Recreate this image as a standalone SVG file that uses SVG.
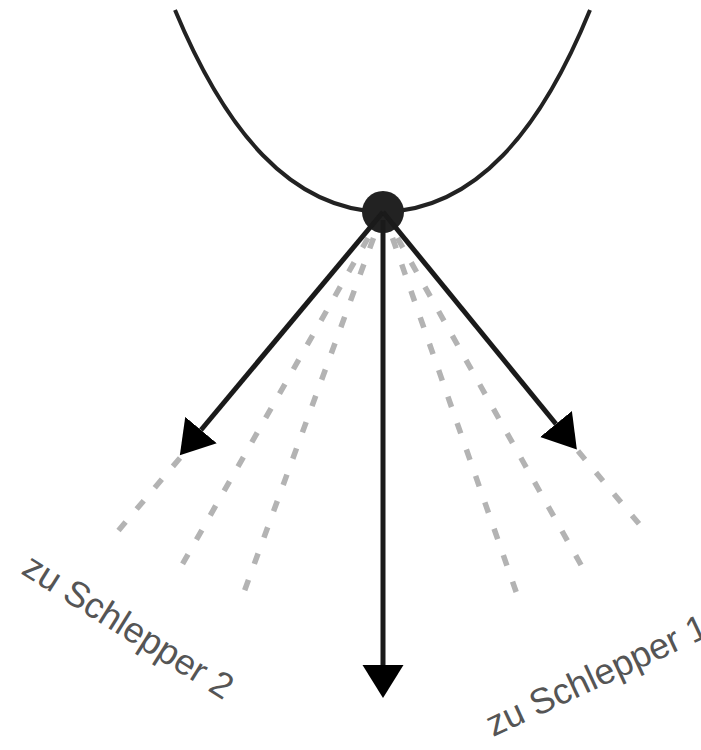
<svg xmlns="http://www.w3.org/2000/svg" width="701" height="750" viewBox="0 0 701 750">
<style>
.curve{fill:none;stroke:#222;stroke-width:4}
.dash{fill:none;stroke:#b3b3b3;stroke-width:5.5;stroke-dasharray:11 17}
.arrow{fill:none;stroke:#1a1a1a;stroke-width:5}
.lbl{font-family:"Liberation Sans",Arial,sans-serif;font-size:36px;fill:#555}
</style>
<defs>
<marker id="ah" markerUnits="userSpaceOnUse" markerWidth="34" markerHeight="42" refX="0" refY="20.5" orient="auto" viewBox="0 0 34 41">
<path d="M0,0 L33,20.5 L0,41 Z" fill="#000"/>
</marker>
</defs>
<g id="rope">
<path class="curve" d="M175,10 C225,130 290,210 383,212 C476,210 541,130 590,10"/>
</g>
<g id="guides">
<line class="dash" x1="180" y1="458" x2="118" y2="531"/>
<line class="dash" x1="368" y1="238" x2="178" y2="572"/>
<line class="dash" x1="373.5" y1="238" x2="240" y2="603"/>
<line class="dash" x1="392.5" y1="238" x2="520" y2="603"/>
<line class="dash" x1="397.5" y1="238" x2="585" y2="572"/>
<line class="dash" x1="578" y1="451" x2="645" y2="531"/>
</g>
<g id="node">
<circle cx="383" cy="212" r="21" fill="#222"/>
</g>
<g id="connectors">
<line class="arrow" x1="383" y1="212" x2="201" y2="430" marker-end="url(#ah)"/>
<line class="arrow" x1="383" y1="212" x2="556" y2="424" marker-end="url(#ah)"/>
<line class="arrow" x1="383" y1="220" x2="383" y2="665" marker-end="url(#ah)"/>
</g>
<g id="labels">
<text class="lbl" transform="translate(20,573) rotate(32)">zu Schlepper 2</text>
<text class="lbl" transform="translate(493,737) rotate(-25)">zu Schlepper 1</text>
</g>
</svg>
